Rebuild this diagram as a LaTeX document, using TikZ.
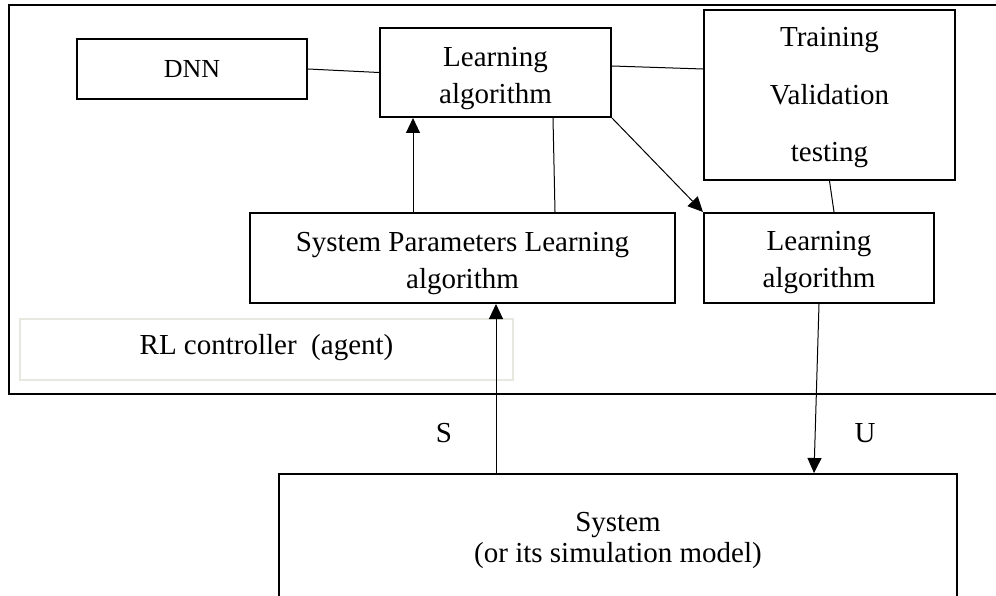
\documentclass[tikz,border=0pt]{standalone}
\usepackage{fontspec}
\setmainfont{Liberation Serif}
\usetikzlibrary{arrows.meta,calc}
\tikzset{
  box/.style={draw, line width=2pt, rectangle, inner sep=0pt},
  conn/.style={line width=1pt},
  arr/.style={line width=1pt, -{Triangle[length=15pt,width=14pt]}},
  lbl/.style={inner sep=0pt, align=center, font=\fontsize{29}{37}\selectfont}
}
\begin{document}
\begin{tikzpicture}[x=1pt,y=-1pt]
\useasboundingbox (0,0) rectangle (996,596);
% outer frame (open beyond the right edge)
\draw[line width=2pt] (1010,5) -- (9,5) -- (9,394) -- (1010,394);
% boxes
\node[box, minimum width=230pt, minimum height=60pt] (dnn) at (192,69) {};
\node[box, minimum width=231pt, minimum height=89pt] (la) at (495.5,72.5) {};
\node[box, minimum width=251pt, minimum height=170pt] (tr) at (829.5,95) {};
\node[box, minimum width=425pt, minimum height=90pt] (sp) at (462.5,258) {};
\node[box, minimum width=230pt, minimum height=90pt] (lb) at (819,258) {};
\node[box, draw=black!8!yellow!4!white!90!black, line width=1.5pt, minimum width=493pt, minimum height=61pt] (rl) at (266.5,349.5) {};
\node[box, minimum width=678pt, minimum height=200pt] (sys) at (618,574) {};
% texts
\node[lbl, font=\fontsize{26}{32}\selectfont] (dnntxt) at (dnn) {DNN};
\node[lbl] (latxt) at (495.5,78.5) {Learning\\algorithm};
\node[lbl, font=\fontsize{29}{57.5}\selectfont] (trtxt) at (829.5,98) {Training\\Validation\\testing};
\node[lbl] (sptxt) at (462.5,264) {System Parameters Learning\\algorithm};
\node[lbl] (lbtxt) at (819,263) {Learning\\algorithm};
\node[lbl] (rltxt) at (266.5,348) {RL controller\ \ (agent)};
\node[lbl, font=\fontsize{29}{31}\selectfont] (systxt) at (618,540) {System\\(or its simulation model)};
\node[lbl] (s) at (444,433) {S};
\node[lbl] (u) at (865,433) {U};
% connectors
\draw[conn] (dnn.east) -- (la.west);
\draw[conn] ([yshift=6.5pt]la.east) -- ([yshift=26pt]tr.west);
\draw[arr] ([xshift=-49.5pt]sp.north) -- ([xshift=-82.5pt]la.south);
\draw[conn] ([xshift=57.5pt]la.south) -- ([xshift=92.5pt]sp.north);
\draw[arr] (la.south east) -- (lb.north west);
\draw[conn] (tr.south) -- ([xshift=15pt]lb.north);
\draw[arr] ([xshift=-122pt]sys.north) -- ([xshift=33.5pt]sp.south);
\draw[arr] (lb.south) -- ([xshift=196pt]sys.north);
\end{tikzpicture}
\end{document}
